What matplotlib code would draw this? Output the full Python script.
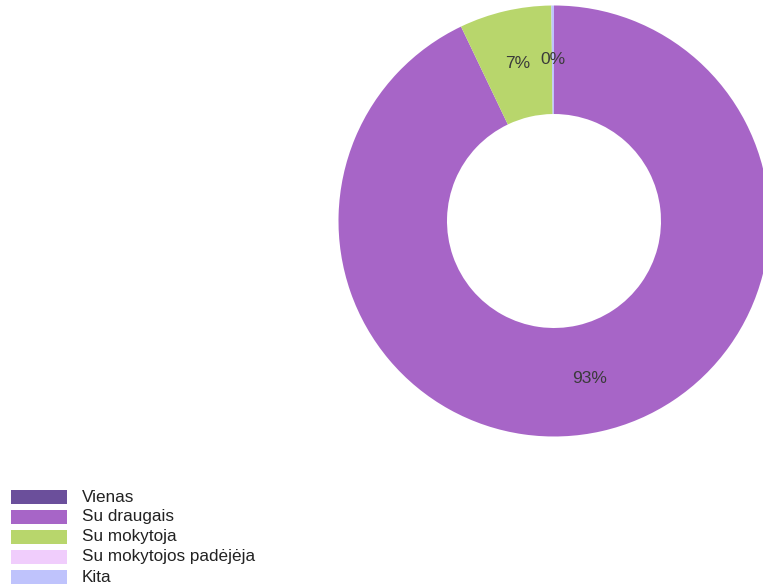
import matplotlib
matplotlib.use("Agg")
import matplotlib.pyplot as plt
from matplotlib.patches import Rectangle

plt.rcParams['font.family'] = ['Liberation Sans', 'DejaVu Sans']

# Data (percent of answers)
labels = ["Vienas", "Su draugais", "Su mokytoja", "Su mokytojos padėjėja", "Kita"]
values = [0.0, 92.9, 6.9, 0.0, 0.2]
colors = ["#6b4f9b", "#a765c7", "#b8d66c", "#f0cdfc", "#bfc3fc"]

W, H = 763, 587
fig = plt.figure(figsize=(W / 100, H / 100), dpi=100)
ax = fig.add_axes([0, 0, 1, 1])

# donut, coordinates in pixels (y up)
cx, cy = 554, H - 221
r_out, r_in = 215.5, 107


def pct_label(p):
    return f"{p:.0f}%" if p > 0 else ""


wedges, texts, autotexts = ax.pie(
    values, colors=colors, startangle=90, counterclock=False,
    center=(cx, cy), radius=r_out,
    wedgeprops=dict(width=r_out - r_in, linewidth=0),
    autopct=pct_label, pctdistance=(r_out + r_in) / 2 / r_out,
    textprops=dict(fontsize=12.5, color="#3a3a3a"),
)

# legend, drawn by hand to mimic the original layout
for i, (lab, col) in enumerate(zip(labels, colors)):
    y = H - (497 + 20 * i)
    ax.add_patch(Rectangle((11, y - 7), 56, 14, facecolor=col, edgecolor="none"))
    ax.text(82, y, lab, fontsize=12.3, color="#222222", va="center", ha="left")

ax.set_xlim(0, W)
ax.set_ylim(0, H)
ax.set_aspect("auto")
ax.axis("off")

fig.savefig("out.png", dpi=100)
